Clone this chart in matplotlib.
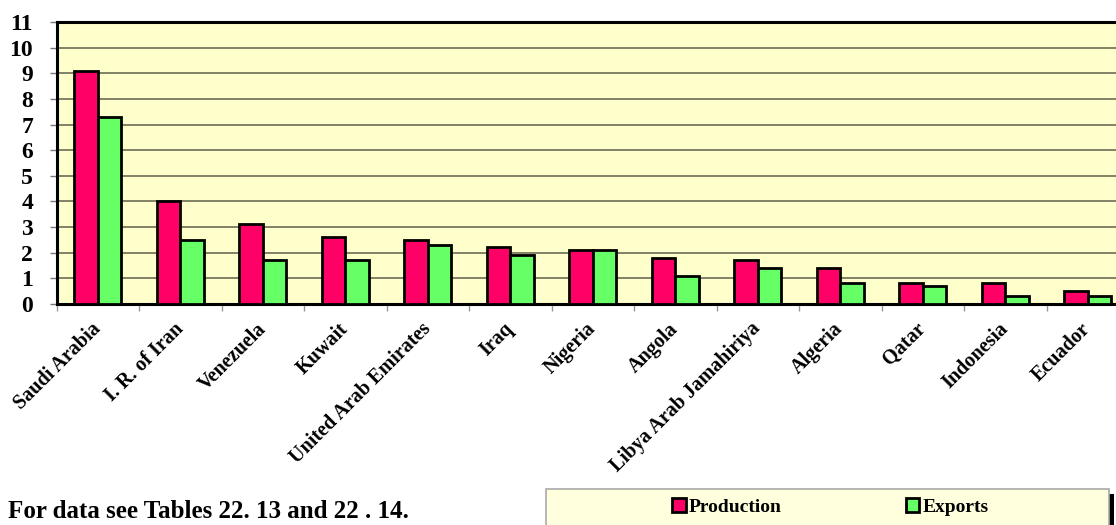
import numpy as np
import matplotlib
matplotlib.use("Agg")
import matplotlib.pyplot as plt
from matplotlib.patches import Rectangle

# data (million b/d)
countries = ["Saudi Arabia", "I. R. of Iran", "Venezuela", "Kuwait",
             "United Arab Emirates", "Iraq", "Nigeria", "Angola",
             "Libya Arab Jamahiriya", "Algeria", "Qatar", "Indonesia", "Ecuador"]
production = [9.1, 4.0, 3.1, 2.6, 2.5, 2.2, 2.1, 1.8, 1.7, 1.4, 0.8, 0.8, 0.5]
exports = [7.3, 2.5, 1.7, 1.7, 2.3, 1.9, 2.1, 1.1, 1.4, 0.8, 0.7, 0.3, 0.3]
yticks = list(range(0, 12))

RED = "#FF0066"
GREEN = "#66FF66"
BG = "#FFFFCC"

plt.rcParams['font.family'] = ['Liberation Serif', 'DejaVu Serif']
plt.rcParams['font.weight'] = 'bold'

W, H = 1116, 525
fig = plt.figure(figsize=(W / 100, H / 100), dpi=100)

# plot area runs past the right edge like in the reference
x0, x1, ytop, ybot = 56.7, 1129.0, 22.3, 303.7
ax = fig.add_axes([x0 / W, 1 - ybot / H, (x1 - x0) / W, (ybot - ytop) / H])
ax.set_facecolor(BG)

x = np.arange(len(countries))
bw = 0.285
ax.bar(x - bw / 2, production, bw, color=RED, edgecolor="black", linewidth=2, zorder=3, label="Production")
ax.bar(x + bw / 2, exports, bw, color=GREEN, edgecolor="black", linewidth=2, zorder=3, label="Exports")

ax.set_xlim(-0.5, len(countries) - 0.5)
ax.set_ylim(0, 11)
ax.set_yticks(yticks)
ax.set_yticklabels([str(v) for v in yticks], fontsize=17, fontweight='bold')
for v in yticks[1:-1]:
    ax.axhline(v, color="#5f5f4a", linewidth=1.1, zorder=1)

ax.set_xticks(x)
ax.set_xticklabels(countries, rotation=45, ha='right', va='center',
                   rotation_mode='anchor', fontsize=14.5, fontweight='bold')
ax.set_xticks(np.arange(len(countries) + 1) - 0.5, minor=True)
ax.tick_params(axis='x', which='major', length=0, pad=16)
ax.tick_params(axis='x', which='minor', length=5, color="#999999", width=1)
ax.tick_params(axis='y', length=5, color="#777777", width=1, pad=12)

for s in ['left', 'bottom', 'top']:
    ax.spines[s].set_linewidth(2.2)
    ax.spines[s].set_color("black")
ax.spines['right'].set_visible(False)

fig.text(8 / W, 1 - 512 / H, "For data see Tables 22. 13 and 22 . 14.",
         fontsize=18, fontweight='bold', ha='left', va='center')

# legend box with dark shadow at the right
fig.patches.append(Rectangle((1109 / W, 0 - 0.05), 5 / W, (H - 494) / H + 0.05,
                             transform=fig.transFigure, facecolor="black",
                             edgecolor="none", zorder=1))
fig.patches.append(Rectangle((546 / W, 0 - 0.05), (1109 - 546) / W, (H - 489) / H + 0.05,
                             transform=fig.transFigure, facecolor="#FFFFDD",
                             edgecolor="#AAAAAA", linewidth=1.2, zorder=2))

handles, labels = ax.get_legend_handles_labels()
leg = fig.legend(handles, labels, loc='center left', bbox_to_anchor=(672 / W, 1 - 507 / H),
                 ncol=2, frameon=False, fontsize=14, handlelength=0.7, handleheight=0.7,
                 handletextpad=0.15, columnspacing=6.4, borderpad=0, borderaxespad=0)
for t in leg.get_texts():
    t.set_fontweight('bold')
leg.set_zorder(5)

fig.savefig("out.png", dpi=100)
